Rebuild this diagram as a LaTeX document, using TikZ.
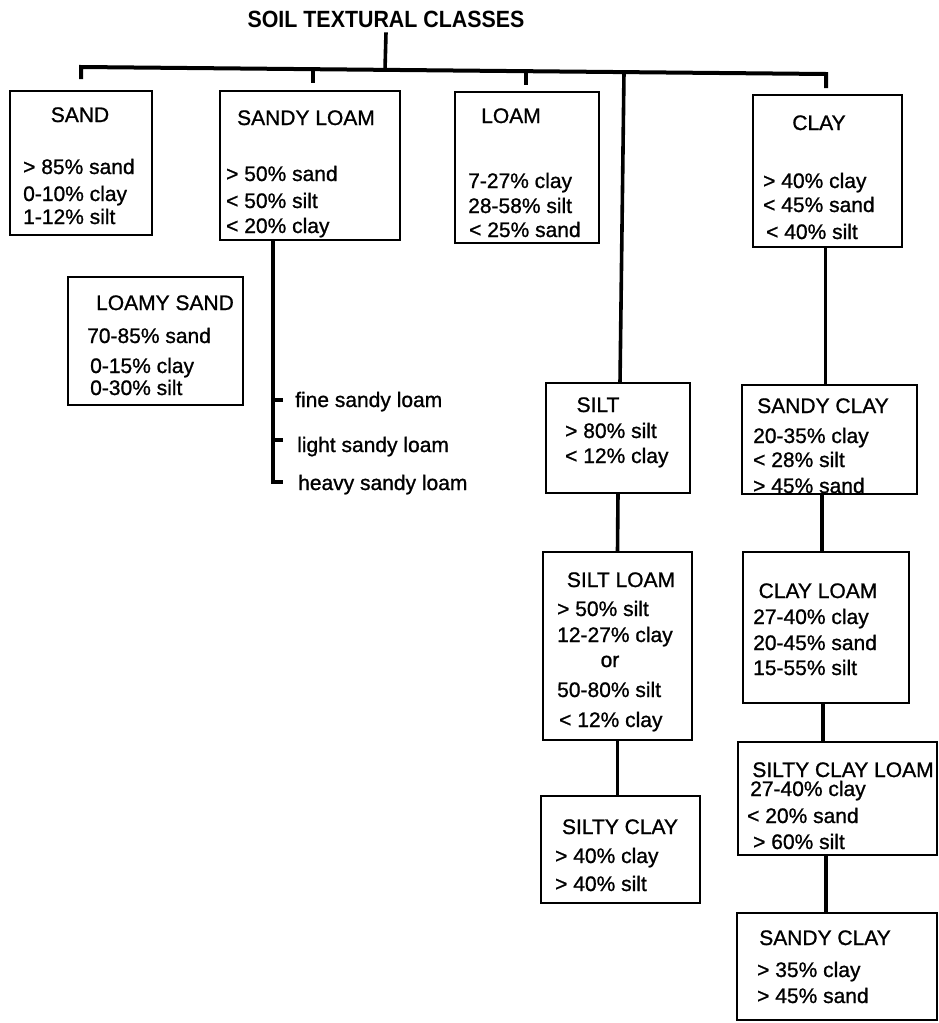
\documentclass[tikz,border=0pt]{standalone}
\usepackage{fontspec}
\newfontfamily\boxfont{Liberation Sans}[FakeBold=1.0]
\newfontfamily\titlefont{Liberation Sans Bold}[FakeStretch=0.91]
\begin{document}
\begin{tikzpicture}[x=1pt,y=-1pt,
  box/.style={draw,line width=2.4pt,inner sep=0pt,outer sep=0pt,anchor=north west},
  conn/.style={line width=3.6pt},
  bus/.style={line width=4pt,line join=miter},
  tl/.style={font=\boxfont\fontsize{21}{25}\selectfont,inner sep=0pt,anchor=base west},
  tc/.style={font=\boxfont\fontsize{21}{25}\selectfont,inner sep=0pt,anchor=base},
  ttl/.style={font=\titlefont\fontsize{23.5}{27}\selectfont,inner sep=0pt,anchor=base}]
\fill[white] (0,0) rectangle (938,1023);
\useasboundingbox (0,0) rectangle (938,1023);

% title and bus
\node[ttl] (title) at (386,27) {SOIL TEXTURAL CLASSES};
\coordinate (bL) at (81,67);
\coordinate (bR) at (826,74);
\coordinate (dL) at (81,79);
\coordinate (dR) at (826,88);
\coordinate (bT) at (385,70);
\coordinate (bSL) at (313,69.2);
\coordinate (dSL) at (313,83);
\coordinate (bLo) at (526,71.2);
\coordinate (dLo) at (526,85);
\coordinate (bSi) at (624,72.1);
\draw[bus] (dL) -- (bL) -- (bR) -- (dR);
\draw[conn] ([yshift=-5pt]title.south) -- (bT);
\draw[conn] (bSL) -- (dSL);
\draw[conn] (bLo) -- (dLo);

% boxes
\node[box,minimum width=142,minimum height=144] (sand) at (10,91) {};
\node[box,minimum width=180,minimum height=149] (sl) at (220,91) {};
\node[box,minimum width=144,minimum height=151] (loam) at (455,92) {};
\node[box,minimum width=149,minimum height=152] (clay) at (753,95) {};
\node[box,minimum width=175,minimum height=128] (ls) at (68,277) {};
\node[box,minimum width=144,minimum height=110] (silt) at (546,383) {};
\node[box,minimum width=175,minimum height=109] (sc) at (742,385) {};
\node[box,minimum width=149,minimum height=188] (siltl) at (543,552) {};
\node[box,minimum width=166,minimum height=151] (cl) at (743,552) {};
\node[box,minimum width=159,minimum height=107] (sic) at (541,796) {};
\node[box,minimum width=199,minimum height=113] (scl) at (738,742) {};
\node[box,minimum width=200,minimum height=107] (sc2) at (737,913) {};

% connectors
\draw[conn] (bSi) -- ([xshift=2pt]silt.north);
\draw[conn] (silt.south) -- (siltl.north);
\draw[conn] (siltl.south) -- (siltl.south |- sic.north);
\coordinate (k1) at ([xshift=-2pt]clay.south);
\draw[conn] (k1) -- (k1 |- sc.north);
\coordinate (k2) at ([xshift=-4pt]cl.north);
\draw[conn] (k2 |- sc.south) -- (k2);
\coordinate (k3) at ([xshift=-3pt]cl.south);
\draw[conn] (k3) -- (k3 |- scl.north);
\coordinate (k4) at ([xshift=-11.5pt]scl.south);
\draw[conn] (k4) -- (k4 |- sc2.north);

% sandy loam sub-branch
\coordinate (slb) at ([xshift=53pt]sl.south west);
\coordinate (tf0) at (273,400);
\coordinate (tf1) at (283,400);
\coordinate (tg0) at (273,440);
\coordinate (tg1) at (283,440);
\coordinate (th0) at (273,482);
\coordinate (th1) at (283,482);
\draw[conn,line join=miter] (slb) -- (th0) -- (th1);
\draw[conn] (tf0) -- (tf1);
\draw[conn] (tg0) -- (tg1);

% texts
\node[tc] (tsand) at (80,122) {SAND};
\node[tl] (sand1) at (23,174) {> 85\% sand};
\node[tl] (sand2) at (23,201) {0-10\% clay};
\node[tl] (sand3) at (23,224) {1-12\% silt};

\node[tc] (tsl) at (306,125) {SANDY LOAM};
\node[tl] (sl1) at (226,181) {> 50\% sand};
\node[tl] (sl2) at (226,208) {< 50\% silt};
\node[tl] (sl3) at (226,233) {< 20\% clay};

\node[tc] (tloam) at (511,123) {LOAM};
\node[tl] (lo1) at (468,188) {7-27\% clay};
\node[tl] (lo2) at (468,213) {28-58\% silt};
\node[tl] (lo3) at (469,237) {< 25\% sand};

\node[tc] (tclay) at (819,130) {CLAY};
\node[tl] (cy1) at (763,188) {> 40\% clay};
\node[tl] (cy2) at (763,212) {< 45\% sand};
\node[tl] (cy3) at (766,239) {< 40\% silt};

\node[tc] (tls) at (165,310) {LOAMY SAND};
\node[tl] (ls1) at (87,343) {70-85\% sand};
\node[tl] (ls2) at (90,373) {0-15\% clay};
\node[tl] (ls3) at (90,395) {0-30\% silt};

\node[tl] (fine) at (295,407) {fine sandy loam};
\node[tl] (light) at (297,452) {light sandy loam};
\node[tl] (heavy) at (298,490) {heavy sandy loam};

\node[tc] (tsilt) at (598,412) {SILT};
\node[tl] (si1) at (565,438) {> 80\% silt};
\node[tl] (si2) at (565,463) {< 12\% clay};

\node[tc] (tsc) at (823,413) {SANDY CLAY};
\node[tl] (sc1) at (753,443) {20-35\% clay};
\node[tl] (sc2t) at (753,467) {< 28\% silt};
\node[tl] (sc3) at (753,493) {> 45\% sand};

\node[tc] (tsiltl) at (621,587) {SILT LOAM};
\node[tl] (sl4) at (557,616) {> 50\% silt};
\node[tl] (sl5) at (557,642) {12-27\% clay};
\node[tc] (sl6) at (610,667) {or};
\node[tl] (sl7) at (557,697) {50-80\% silt};
\node[tl] (sl8) at (559,727) {< 12\% clay};

\node[tc] (tcl) at (818,598) {CLAY LOAM};
\node[tl] (cl1) at (753,624) {27-40\% clay};
\node[tl] (cl2) at (753,650) {20-45\% sand};
\node[tl] (cl3) at (753,675) {15-55\% silt};

\node[tc] (tsic) at (620,834) {SILTY CLAY};
\node[tl] (sic1) at (555,863) {> 40\% clay};
\node[tl] (sic2) at (555,891) {> 40\% silt};

\node[tc] (tscl) at (843,777) {SILTY CLAY LOAM};
\node[tl] (scl1) at (750,796) {27-40\% clay};
\node[tl] (scl2) at (747,823) {< 20\% sand};
\node[tl] (scl3) at (753,849) {> 60\% silt};

\node[tc] (tsc2) at (825,945) {SANDY CLAY};
\node[tl] (sc21) at (757,977) {> 35\% clay};
\node[tl] (sc22) at (757,1003) {> 45\% sand};
\end{tikzpicture}
\end{document}
